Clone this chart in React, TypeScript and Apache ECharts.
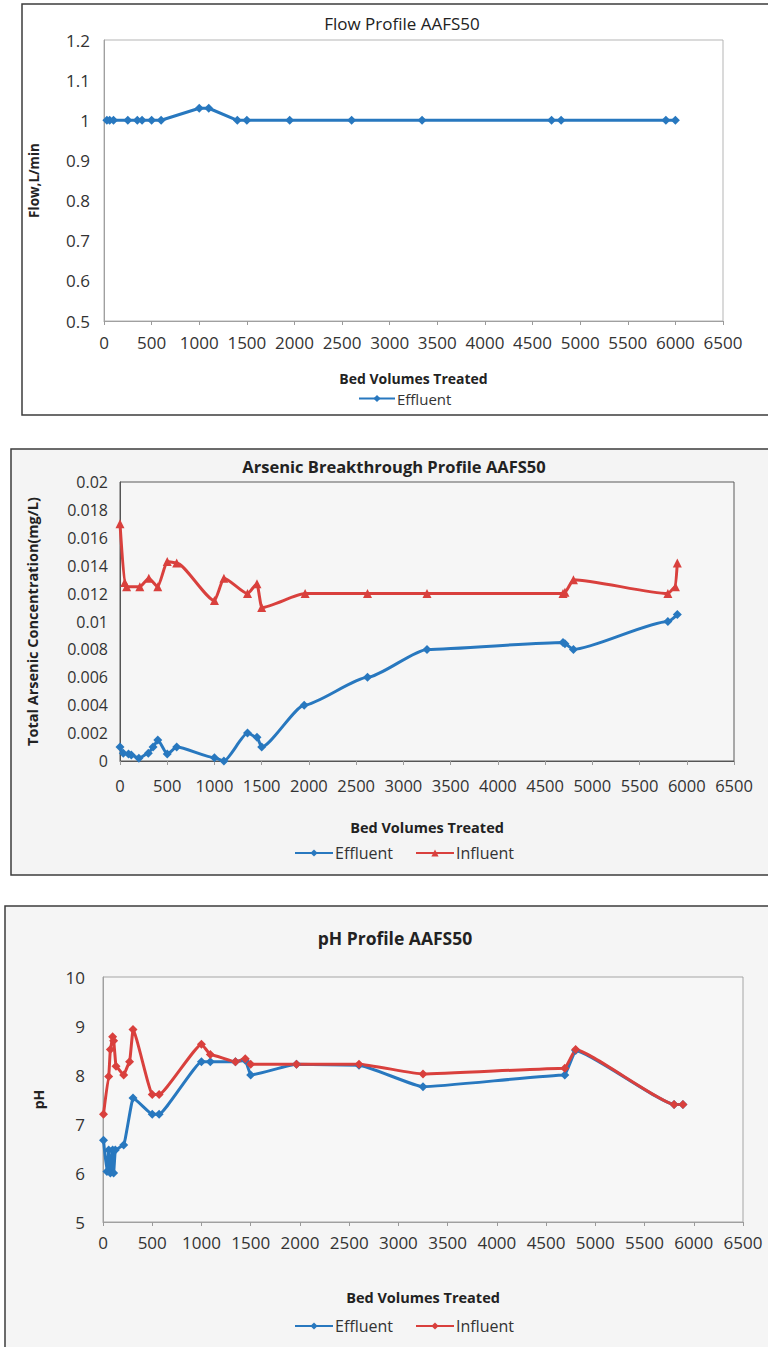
import React, { useEffect, useRef } from "react";
import * as echarts from "echarts";

// ---------- DATA ----------
const flowBV = [30, 60, 100, 250, 350, 400, 500, 600, 1000, 1100, 1400, 1500, 1950, 2600, 3340, 4700, 4800, 5900, 6000];
const flowEffluent = [1, 1, 1, 1, 1, 1, 1, 1, 1.03, 1.03, 1, 1, 1, 1, 1, 1, 1, 1, 1];

const asEffBV = [0, 35, 90, 120, 200, 300, 350, 400, 500, 600, 1000, 1100, 1350, 1450, 1500, 1950, 2620, 3250, 4690, 4710, 4800, 5800, 5900];
const asEffluent = [0.001, 0.00055, 0.0005, 0.00043, 0.0002, 0.00055, 0.001, 0.0015, 0.0005, 0.001, 0.00024, 0, 0.002, 0.0017, 0.001, 0.004, 0.006, 0.008, 0.0085, 0.0084, 0.008, 0.01, 0.0105];

const asInfBV = [0, 50, 70, 210, 305, 400, 500, 600, 1000, 1100, 1350, 1450, 1500, 1960, 2620, 3250, 4690, 4710, 4800, 5800, 5880, 5900];
const asInfluent = [0.017, 0.0128, 0.0125, 0.0125, 0.0131, 0.0125, 0.0143, 0.0142, 0.0115, 0.0131, 0.012, 0.0127, 0.011, 0.012, 0.012, 0.012, 0.012, 0.0121, 0.013, 0.012, 0.0125, 0.0142];

const phEffBV = [5, 40, 58, 75, 98, 108, 125, 210, 305, 500, 570, 1000, 1090, 1345, 1445, 1500, 1965, 2600, 3250, 4690, 4800, 5800, 5890];
const phEffluent = [6.67, 6.03, 6.47, 6.0, 6.47, 6.0, 6.47, 6.57, 7.53, 7.2, 7.2, 8.27, 8.27, 8.27, 8.3, 8.0, 8.22, 8.2, 7.76, 8.0, 8.5, 7.4, 7.4];

const phInfBV = [5, 58, 75, 98, 108, 132, 210, 270, 305, 500, 570, 1000, 1090, 1345, 1445, 1500, 1965, 2600, 3250, 4690, 4800, 5800, 5890];
const phInfluent = [7.2, 7.97, 8.52, 8.78, 8.7, 8.18, 8.0, 8.27, 8.93, 7.6, 7.6, 8.63, 8.42, 8.27, 8.33, 8.22, 8.22, 8.22, 8.02, 8.14, 8.52, 7.4, 7.4];

const xTicksMax = 6500;
const xTickStep = 500;

// ---------- STYLE ----------
const BLUE = "#2878BF";
const RED = "#D9403D";
const FONT = '"Open Sans", "DejaVu Sans", sans-serif';

const zip = (xs: number[], ys: number[]) => xs.map((x, i) => [x, ys[i]]);
const plain = (v: number) => String(Number(v.toFixed(6)));

function xAxisOpt(nameGap: number, margin: number, fontSize: number, lineColor: string) {
  return {
    type: "value",
    min: 0,
    max: xTicksMax,
    interval: xTickStep,
    name: "Bed Volumes Treated",
    nameLocation: "middle",
    nameGap,
    nameTextStyle: { fontFamily: FONT, fontWeight: "bold", fontSize: 14.5, color: "#222" },
    axisLine: { show: true, lineStyle: { color: lineColor, width: 1 } },
    axisTick: { show: true, length: 4, inside: false, lineStyle: { color: "#9a9a9a" } },
    axisLabel: { fontFamily: FONT, fontSize, margin, color: "#333", formatter: plain },
    splitLine: { show: false },
  };
}

function yAxisOpt(name: string, min: number, max: number, interval: number, nameGap: number, margin: number, fontSize: number, nameSize: number, lineColor: string) {
  return {
    type: "value",
    min,
    max,
    interval,
    name,
    nameLocation: "middle",
    nameGap,
    nameRotate: 90,
    nameTextStyle: { fontFamily: FONT, fontWeight: "bold", fontSize: nameSize, color: "#222" },
    axisLine: { show: true, lineStyle: { color: lineColor, width: 1 } },
    axisTick: { show: false },
    axisLabel: { fontFamily: FONT, fontSize, margin, color: "#333", formatter: plain },
    splitLine: { show: false },
  };
}

function legendOpt(left: number, top: number, itemWidth: number, fontSize: number) {
  return {
    left,
    top,
    itemWidth,
    itemHeight: 9,
    itemGap: 22,
    textStyle: { fontFamily: FONT, fontSize, color: "#333", padding: [0, 0, 0, -3] },
  };
}

function lineSeries(name: string, data: number[][], color: string, symbol: string, smooth: boolean | number) {
  return {
    type: "line",
    name,
    data,
    symbol,
    symbolSize: 9,
    smooth,
    smoothMonotone: "x",
    lineStyle: { color, width: 3 },
    itemStyle: { color },
    emphasis: { disabled: true },
  };
}

const option1 = {
  animation: false,
  graphic: [
    { type: "rect", z: -10, shape: { x: 22, y: 4, width: 780, height: 411 }, style: { fill: "#ffffff", stroke: "#3d3d3d", lineWidth: 1.5 } },
    { type: "text", x: 402, y: 23, style: { text: "Flow Profile AAFS50", font: `17px ${FONT}`, textAlign: "center", textVerticalAlign: "middle", fill: "#222" } },
  ],
  grid: { left: 104, top: 40, width: 619, height: 281, show: true, borderColor: "#b5b5b5", borderWidth: 1, backgroundColor: "#ffffff" },
  xAxis: { ...xAxisOpt(50, 13, 17, "#a0a0a0"), nameTextStyle: { fontFamily: FONT, fontWeight: "bold", fontSize: 14, color: "#222" } },
  yAxis: yAxisOpt("Flow,L/min", 0.5, 1.2, 0.1, 63, 14, 17, 13.5, "#a0a0a0"),
  legend: { ...legendOpt(353, 386, 36, 15), data: ["Effluent"] },
  series: [lineSeries("Effluent", zip(flowBV, flowEffluent), BLUE, "diamond", false)],
};

const option2 = {
  animation: false,
  graphic: [
    { type: "rect", z: -10, shape: { x: 11, y: 19, width: 790, height: 426 }, style: { fill: "#f4f4f4", stroke: "#3d3d3d", lineWidth: 1.5 } },
    { type: "text", x: 394, y: 36, style: { text: "Arsenic Breakthrough Profile AAFS50", font: `bold 16.5px ${FONT}`, textAlign: "center", textVerticalAlign: "middle", fill: "#222" } },
  ],
  grid: { left: 120, top: 52, width: 614, height: 279, show: true, borderColor: "#5a5a5a", borderWidth: 1, backgroundColor: "#f6f6f6" },
  xAxis: xAxisOpt(59, 16, 16.5, "#555"),
  yAxis: yAxisOpt("Total Arsenic Concentration(mg/L)", 0, 0.02, 0.002, 80, 12, 16, 14.5, "#555"),
  legend: { ...legendOpt(289, 410, 38, 16), data: ["Effluent", "Influent"] },
  series: [
    lineSeries("Effluent", zip(asEffBV, asEffluent), BLUE, "diamond", 0.2),
    lineSeries("Influent", zip(asInfBV, asInfluent), RED, "triangle", 0.2),
  ],
};

const option3 = {
  animation: false,
  graphic: [
    { type: "rect", z: -10, shape: { x: 5, y: 21, width: 800, height: 470 }, style: { fill: "#f5f5f5", stroke: "#3d3d3d", lineWidth: 1.5 } },
    { type: "text", x: 395, y: 53, style: { text: "pH Profile AAFS50", font: `bold 17.5px ${FONT}`, textAlign: "center", textVerticalAlign: "middle", fill: "#222" } },
  ],
  grid: { left: 103, top: 92, width: 640, height: 245, show: true, borderColor: "#a5a5a5", borderWidth: 1, backgroundColor: "#f7f7f7" },
  xAxis: xAxisOpt(68, 12, 17, "#a0a0a0"),
  yAxis: yAxisOpt("pH", 5, 10, 1, 58, 18, 17, 14, "#a0a0a0"),
  legend: { ...legendOpt(289, 428, 38, 16), data: ["Effluent", "Influent"] },
  series: [
    lineSeries("Effluent", zip(phEffBV, phEffluent), BLUE, "diamond", 0.12),
    lineSeries("Influent", zip(phInfBV, phInfluent), RED, "diamond", 0.12),
  ],
};

function Panel({ option, top, height }: { option: any; top: number; height: number }) {
  const ref = useRef<HTMLDivElement>(null);
  useEffect(() => {
    if (!ref.current) return;
    const chart = echarts.init(ref.current, undefined, { renderer: "svg" });
    chart.setOption(option);
    return () => chart.dispose();
  }, [option]);
  return <div ref={ref} style={{ position: "absolute", left: 0, top, width: 768, height }} />;
}

export default function App() {
  return (
    <div style={{ position: "absolute", left: 0, top: 0, width: 768, height: 1347, background: "#ffffff", overflow: "hidden" }}>
      <Panel option={option1} top={0} height={430} />
      <Panel option={option2} top={430} height={455} />
      <Panel option={option3} top={885} height={462} />
    </div>
  );
}
